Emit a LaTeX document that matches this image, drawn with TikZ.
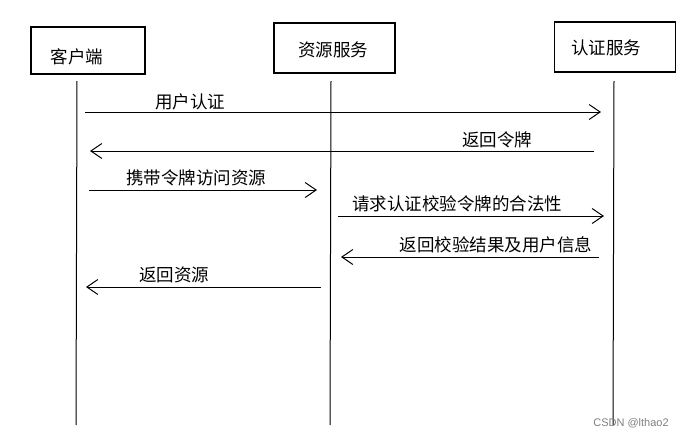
\documentclass[tikz,border=0pt]{standalone}
\usepackage{fontspec}
\newfontfamily\cjk{Noto Sans CJK SC}
\usetikzlibrary{arrows.meta}
\begin{document}
\begin{tikzpicture}[x=1pt,y=-1pt,
  actor/.style={draw=black,line width=1.2pt,minimum height=47pt,inner sep=0pt},
  life/.style={draw=black,line width=1pt},
  msg/.style={draw=black,line width=1pt,-{Straight Barb[length=11pt,width=15pt,line width=1pt]}},
  lbl/.style={font=\cjk\fontsize{17.5}{17.5}\selectfont,inner sep=0pt,anchor=center}]
\useasboundingbox (0,0) rectangle (681,437);
\fill[white] (0,0) rectangle (681,437);
% actors
\node[actor,minimum width=114pt] (cl) at (88,50.5) {};
\node[actor,minimum width=121pt,minimum height=50pt] (rs) at (334.5,48) {};
\node[actor,minimum width=121pt,minimum height=50pt] (as) at (615,47) {};
\node[lbl] (clt) at (77,57) {客户端};
\node[lbl] (rst) at (333,50) {资源服务};
\node[lbl] (ast) at (606,48) {认证服务};
% lifelines
\coordinate (clu) at (77,81); \coordinate (clb) at (76,425);
\coordinate (rsu) at (331,81); \coordinate (rsb) at (330,425);
\coordinate (asu) at (614,81); \coordinate (asb) at (613,425);
\draw[life] (clu) -- (clb);
\draw[life] (rsu) -- (rsb);
\draw[life] (asu) -- (asb);
% messages
\coordinate (m1a) at (85,112); \coordinate (m1b) at (601,112);
\draw[msg] (m1a) -- (m1b);
\node[lbl] (l1) at (190,102) {用户认证};
\coordinate (m2a) at (594,151); \coordinate (m2b) at (90,151);
\draw[msg] (m2a) -- (m2b);
\node[lbl] (l2) at (497,140) {返回令牌};
\coordinate (m3a) at (89,190); \coordinate (m3b) at (317,190);
\draw[msg] (m3a) -- (m3b);
\node[lbl] (l3) at (196,178) {携带令牌访问资源};
\coordinate (m4a) at (338,216); \coordinate (m4b) at (604,216);
\draw[msg] (m4a) -- (m4b);
\node[lbl] (l4) at (457,204) {请求认证校验令牌的合法性};
\coordinate (m5a) at (599,257); \coordinate (m5b) at (341,257);
\draw[msg] (m5a) -- (m5b);
\node[lbl] (l5) at (496,245) {返回校验结果及用户信息};
\coordinate (m6a) at (321,287); \coordinate (m6b) at (86,287);
\draw[msg] (m6a) -- (m6b);
\node[lbl] (l6) at (174,275) {返回资源};
% watermark
\node[font=\fontspec{Liberation Sans}\fontsize{11}{11}\selectfont,text=black!50,inner sep=0pt] (wm) at (631,423) {CSDN @lthao2};
\end{tikzpicture}
\end{document}
